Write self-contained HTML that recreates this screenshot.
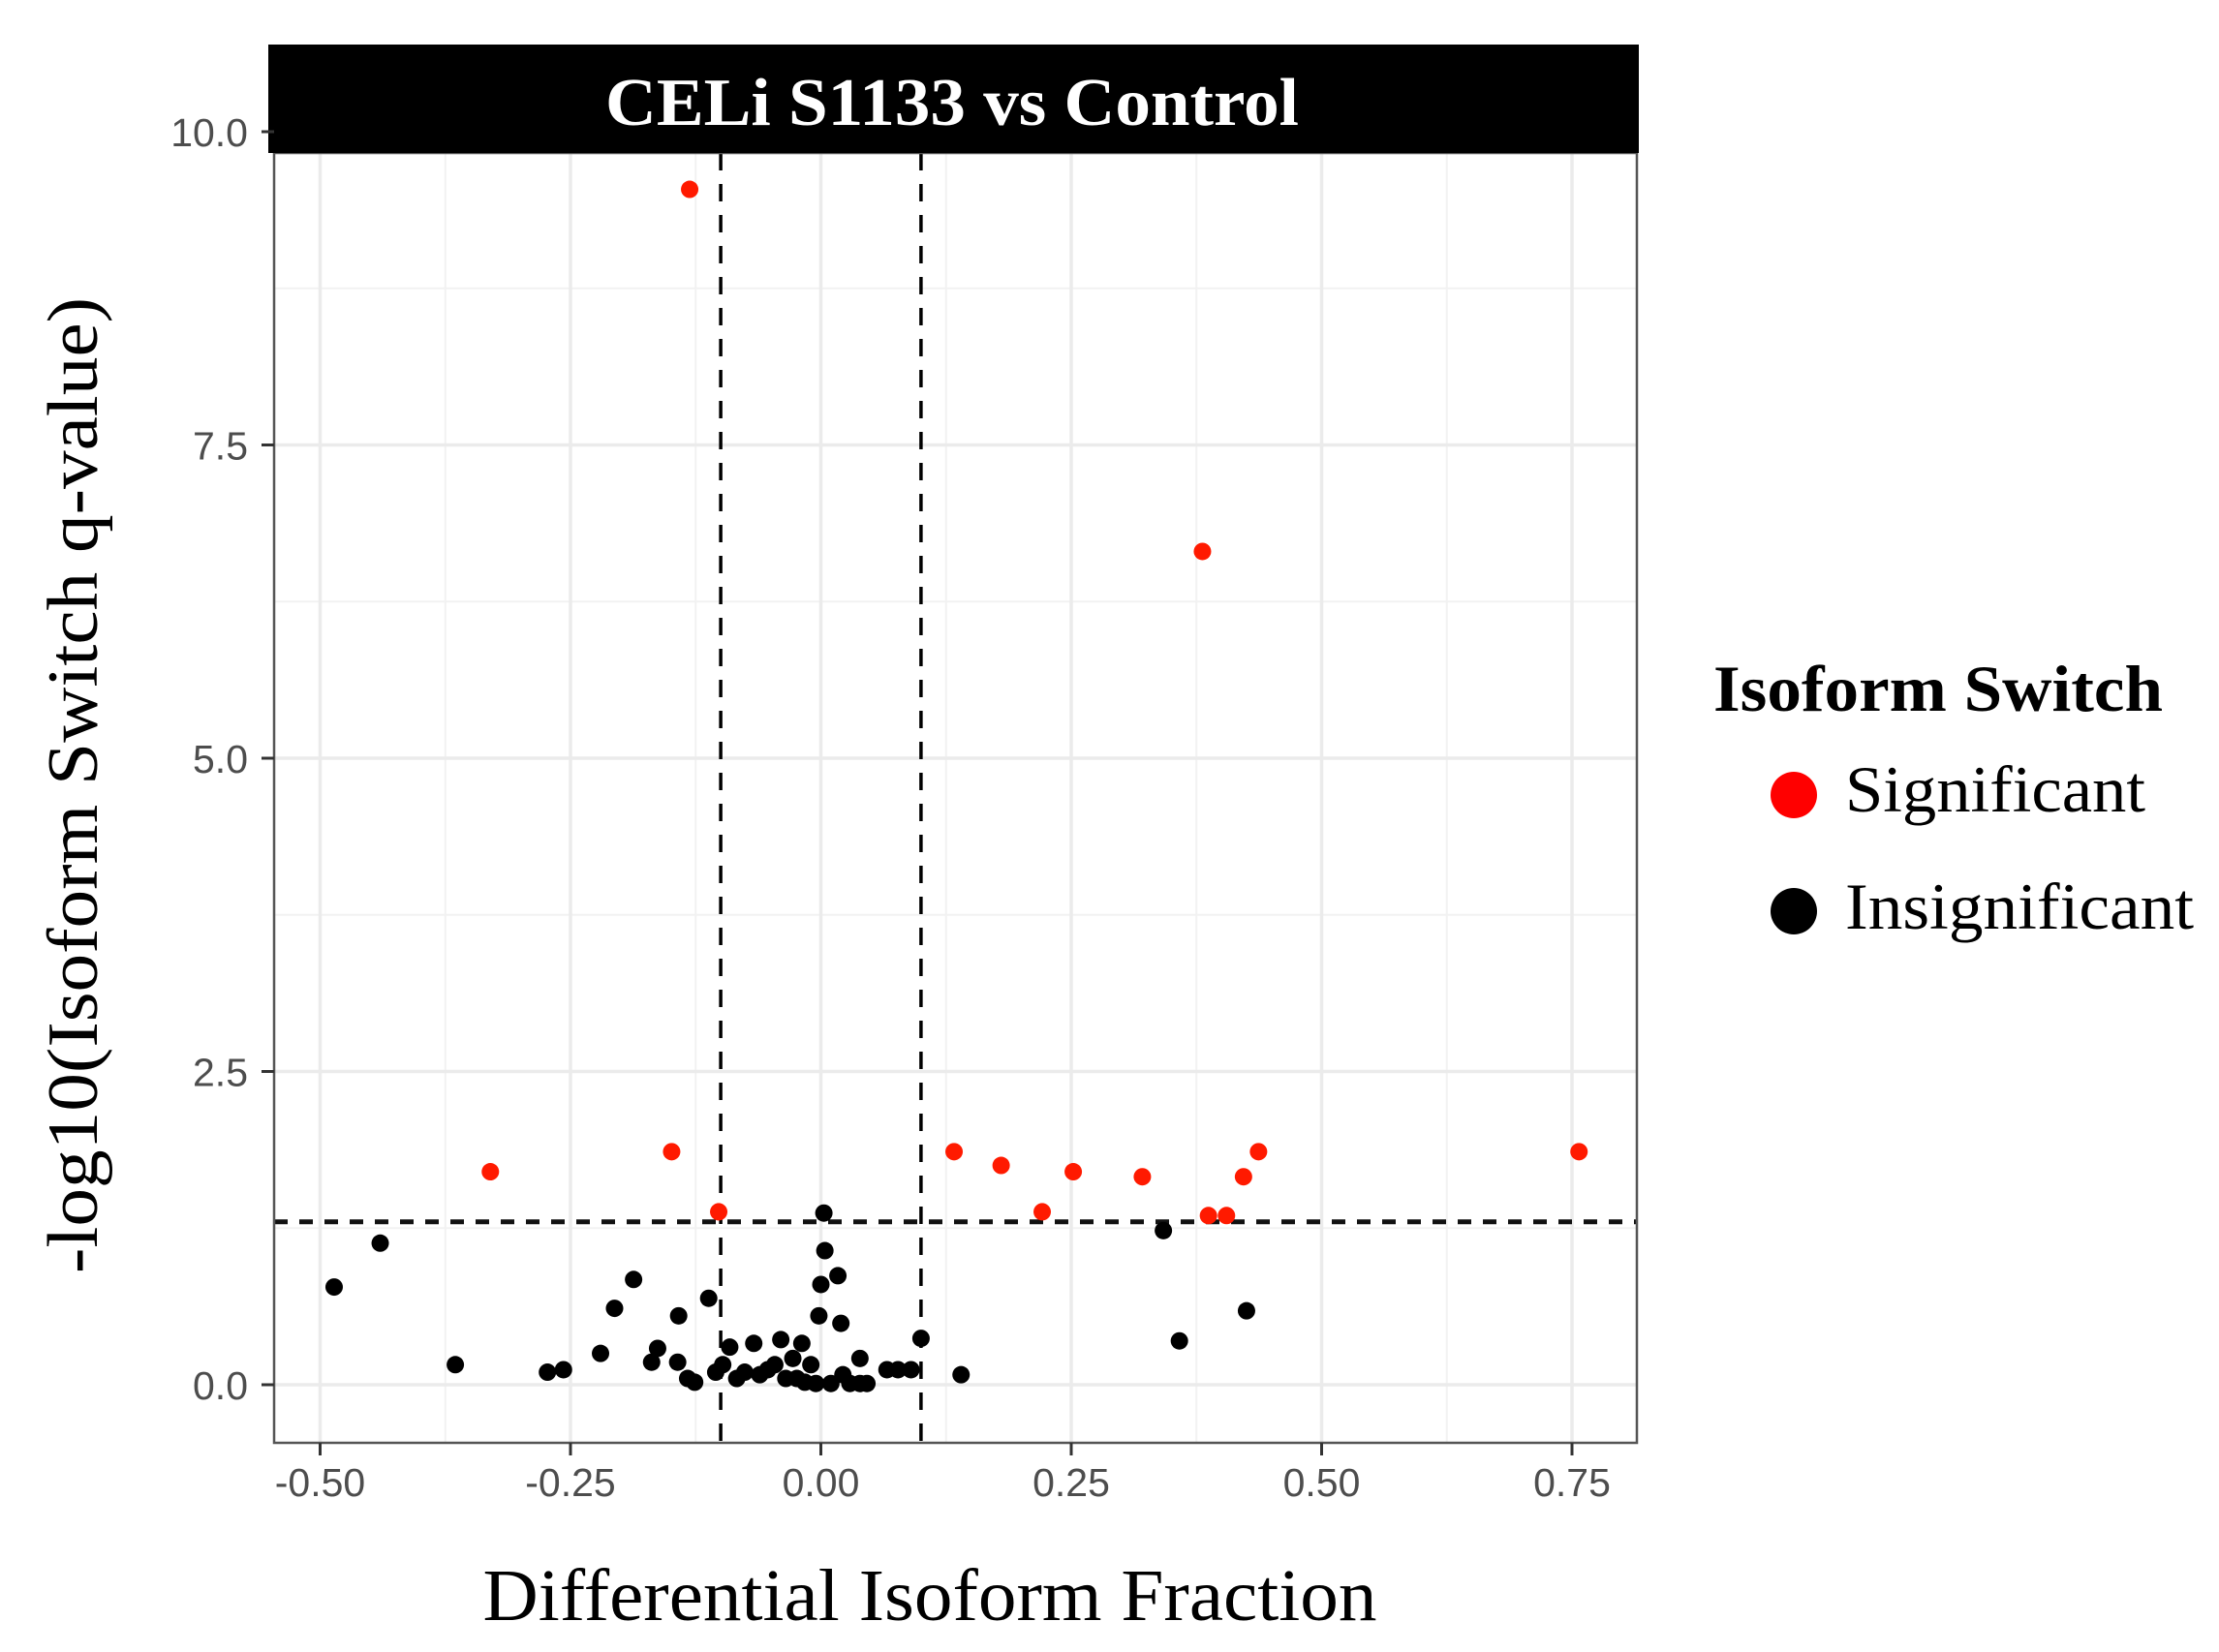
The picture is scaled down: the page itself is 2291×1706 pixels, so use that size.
<!DOCTYPE html>
<html><head><meta charset="utf-8"><style>
html,body{margin:0;padding:0;background:#fff;}
svg{display:block;}
</style></head><body>
<svg id="chart" width="2291" height="1706" viewBox="0 0 2291 1706" xmlns="http://www.w3.org/2000/svg">
<rect x="0" y="0" width="2291" height="1706" fill="#fff"/>
<g id="grid"></g>
<g id="thresh"></g>
<g id="pts"></g>
<rect x="283" y="158" width="1407" height="1332" fill="none" stroke="#555" stroke-width="2.5"/>
<rect x="277" y="46" width="1415" height="112" fill="#000"/>
<text x="983" y="129" text-anchor="middle" font-family="Liberation Serif, serif" font-weight="bold" font-size="70" fill="#fff" textLength="716" lengthAdjust="spacingAndGlyphs">CELi  S1133 vs Control</text>
<g id="axes"></g>
<text transform="translate(100,811) rotate(-90)" text-anchor="middle" font-family="Liberation Serif, serif" font-size="74" fill="#000" textLength="1008" lengthAdjust="spacingAndGlyphs">-log10(Isoform Switch q-value)</text>
<text x="960" y="1673" text-anchor="middle" font-family="Liberation Serif, serif" font-size="76" fill="#000" textLength="923" lengthAdjust="spacingAndGlyphs">Differential Isoform Fraction</text>
<g>
<text x="1769" y="734" font-family="Liberation Serif, serif" font-weight="bold" font-size="68" fill="#000" textLength="464" lengthAdjust="spacingAndGlyphs">Isoform Switch</text>
<circle cx="1852" cy="821" r="24" fill="#ff0000"/>
<text x="1905" y="838" font-family="Liberation Serif, serif" font-size="68" fill="#000" textLength="310" lengthAdjust="spacingAndGlyphs">Significant</text>
<circle cx="1852" cy="941" r="24" fill="#000"/>
<text x="1905" y="959" font-family="Liberation Serif, serif" font-size="68" fill="#000" textLength="360" lengthAdjust="spacingAndGlyphs">Insignificant</text>
</g>
</svg>
<script>
const xTicks=[-0.5,-0.25,0,0.25,0.5,0.75];
const xTickLabels=["-0.50","-0.25","0.00","0.25","0.50","0.75"];
const yTicks=[0,2.5,5,7.5,10];
const yTickLabels=["0.0","2.5","5.0","7.5","10.0"];
const sigX=[-0.131,0.381,-0.33,-0.149,-0.102,0.133,0.18,0.221,0.252,0.321,0.387,0.405,0.422,0.437,0.757];
const sigY=[9.54,6.65,1.70,1.86,1.38,1.86,1.75,1.38,1.70,1.66,1.35,1.35,1.66,1.86,1.86];
const insX=[-0.486,-0.44,-0.365,-0.273,-0.257,-0.22,-0.206,-0.187,-0.169,-0.163,-0.142,-0.143,-0.133,-0.126,-0.112,-0.105,-0.098,-0.091,-0.084,-0.076,-0.067,-0.061,-0.053,-0.046,-0.04,-0.035,-0.028,-0.024,-0.019,-0.016,-0.01,-0.005,-0.002,0,0.004,0.003,0.017,0.02,0.01,0.022,0.029,0.039,0.039,0.046,0.066,0.077,0.09,0.1,0.14,0.342,0.358,0.425];
const insY=[0.78,1.13,0.16,0.10,0.12,0.25,0.61,0.84,0.18,0.29,0.55,0.18,0.05,0.02,0.69,0.10,0.16,0.30,0.05,0.10,0.33,0.08,0.12,0.16,0.36,0.05,0.21,0.05,0.33,0.02,0.16,0.01,0.55,0.80,1.07,1.37,0.87,0.49,0.01,0.08,0.01,0.01,0.21,0.01,0.12,0.12,0.12,0.37,0.08,1.23,0.35,0.59];
const vThresh=[-0.1,0.1];
const hThresh=[1.3];

const NS="http://www.w3.org/2000/svg";
const L=283,R=1690,T=158,B=1490;
function sx(v){return 847.5+v*1034;}
function sy(v){return 1430-v*129.4;}
function mk(tag,attrs,parent){const e=document.createElementNS(NS,tag);for(const k in attrs)e.setAttribute(k,attrs[k]);parent.appendChild(e);return e;}
const grid=document.getElementById('grid');
for(let i=0;i<xTicks.length+1;i++){
  const v=xTicks[0]-0.125+i*0.25; const x=sx(v);
  if(x>L&&x<R){const e=mk('line',{x1:x,x2:x,y1:T,y2:B,stroke:'#f2f2f2','stroke-width':2},grid);
  
  }
}
for(let i=0;i<yTicks.length;i++){
  const v=yTicks[i]+1.25; const y=sy(v);
  if(y>T&&y<B){const e=mk('line',{x1:L,x2:R,y1:y,y2:y,stroke:'#f2f2f2','stroke-width':2},grid);
  
  }
}
xTicks.forEach(v=>{const x=sx(v);const e=mk('line',{x1:x,x2:x,y1:T,y2:B,stroke:'#ebebeb','stroke-width':3.5},grid);
  
  });
yTicks.forEach(v=>{const y=sy(v);if(y<T)return;const e=mk('line',{x1:L,x2:R,y1:y,y2:y,stroke:'#ebebeb','stroke-width':3.5},grid);
  
  });
const th=document.getElementById('thresh');
vThresh.forEach(v=>{const e=mk('line',{x1:sx(v),x2:sx(v),y1:T,y2:B,stroke:'#000','stroke-width':3.5,'stroke-dasharray':'18 14'},th);
  
  });
hThresh.forEach(v=>{const e=mk('line',{x1:L,x2:R,y1:sy(v),y2:sy(v),stroke:'#111','stroke-width':5,'stroke-dasharray':'14 12'},th);
  
  });
const pts=document.getElementById('pts');
insX.forEach((v,i)=>{const e=mk('circle',{cx:sx(v),cy:sy(insY[i]),r:9,fill:'#000'},pts);
  
  });
sigX.forEach((v,i)=>{const e=mk('circle',{cx:sx(v),cy:sy(sigY[i]),r:9,fill:'#ff1a00'},pts);
  
  });
const ax=document.getElementById('axes');
xTicks.forEach((v,i)=>{const x=sx(v);
  const t=mk('line',{x1:x,x2:x,y1:B,y2:B+13,stroke:'#333','stroke-width':3},ax);
  
  
  const l=mk('text',{x:x,y:1545,'text-anchor':'middle','font-family':'Liberation Sans, sans-serif','font-size':41,fill:'#4d4d4d'},ax);
  l.textContent=xTickLabels[i];
  
  });
yTicks.forEach((v,i)=>{const y=sy(v);
  const t=mk('line',{x1:L-13,x2:L,y1:y,y2:y,stroke:'#333','stroke-width':3},ax);
  
  
  const l=mk('text',{x:256,y:y+15,'text-anchor':'end','font-family':'Liberation Sans, sans-serif','font-size':41,fill:'#4d4d4d'},ax);
  l.textContent=yTickLabels[i];
  
  });
</script>
</body></html>
